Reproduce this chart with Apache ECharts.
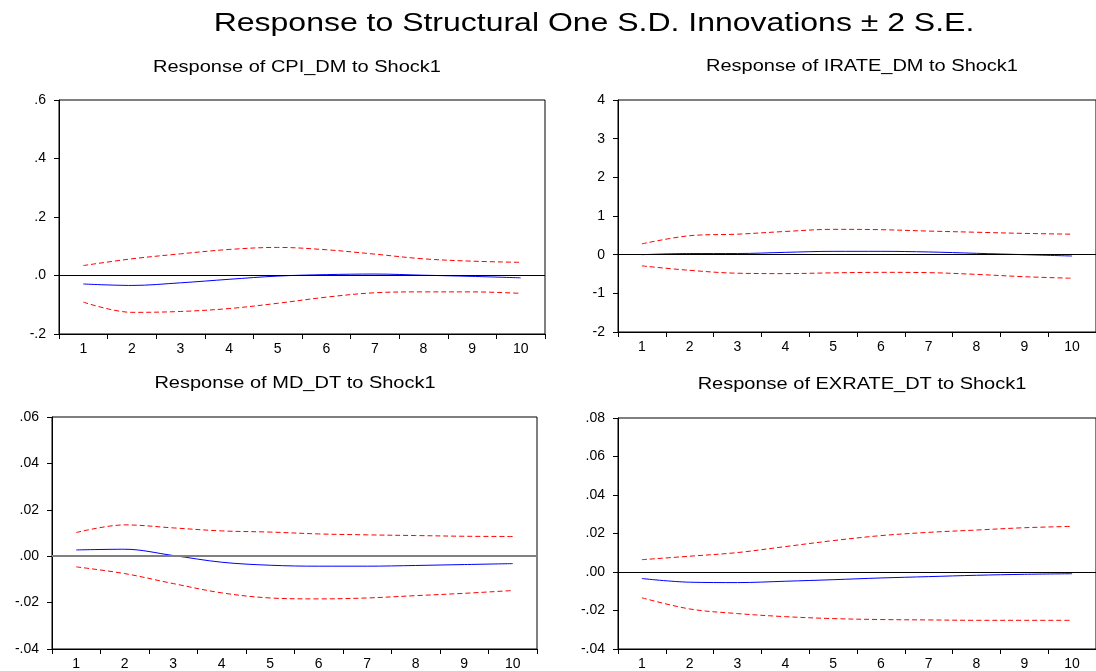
<!DOCTYPE html>
<html>
<head>
<meta charset="utf-8">
<title>Response to Structural One S.D. Innovations</title>
<script src="https://cdn.jsdelivr.net/npm/echarts@6/dist/echarts.min.js"></script>
<style>
  html, body { margin: 0; padding: 0; background: #ffffff; }
  #chart { width: 1096px; height: 671px; }
</style>
</head>
<body>
<div id="chart"></div>
<script>
// Forecast horizons
const periods = ['1', '2', '3', '4', '5', '6', '7', '8', '9', '10'];

// Response of CPI_DM to Shock1
const cpiResp  = [-0.029, -0.034, -0.025, -0.013, -0.002, 0.003, 0.005, 0.001, -0.003, -0.008];
const cpiUpper = [0.034, 0.057, 0.074, 0.089, 0.096, 0.088, 0.073, 0.057, 0.049, 0.045];
const cpiLower = [-0.091, -0.126, -0.123, -0.113, -0.095, -0.074, -0.059, -0.056, -0.056, -0.061];

// Response of IRATE_DM to Shock1
const irateResp  = [0.00, 0.03, 0.03, 0.06, 0.086, 0.086, 0.07, 0.035, 0.00, -0.035];
const irateUpper = [0.28, 0.49, 0.53, 0.60, 0.655, 0.646, 0.61, 0.58, 0.55, 0.53];
const irateLower = [-0.29, -0.405, -0.48, -0.49, -0.47, -0.457, -0.465, -0.51, -0.57, -0.61];

// Response of MD_DT to Shock1
const mdResp  = [0.0027, 0.0030, 0.0003, -0.0026, -0.0039, -0.0043, -0.0043, -0.0040, -0.0036, -0.0032];
const mdUpper = [0.0102, 0.0135, 0.0122, 0.0109, 0.0104, 0.0096, 0.0092, 0.0089, 0.0086, 0.0085];
const mdLower = [-0.0046, -0.0075, -0.0118, -0.0158, -0.0180, -0.0184, -0.0180, -0.0170, -0.0160, -0.0148];

// Response of EXRATE_DT to Shock1
const exResp  = [-0.0034, -0.0053, -0.0055, -0.0048, -0.0040, -0.0031, -0.0024, -0.0017, -0.0012, -0.0009];
const exUpper = [0.0064, 0.0082, 0.0101, 0.0132, 0.0163, 0.0189, 0.0206, 0.0218, 0.0230, 0.0237];
const exLower = [-0.0134, -0.0192, -0.0216, -0.0232, -0.0242, -0.0247, -0.0249, -0.0251, -0.0251, -0.0251];

const mainTitle = 'Response to Structural One S.D. Innovations \u00b1 2 S.E.';
const panelTitles = [
  'Response of CPI_DM to Shock1',
  'Response of IRATE_DM to Shock1',
  'Response of MD_DT to Shock1',
  'Response of EXRATE_DT to Shock1'
];

const FONT = '"Liberation Sans", Arial, sans-serif';

// Decimal labels without the leading zero: .6, -.2, .00
function dotLabel(decimals) {
  return function (v) {
    const s = Math.abs(v).toFixed(decimals).replace(/^0/, '');
    return (v < -1e-12 ? '-' : '') + s;
  };
}

const panels = [
  { grid: { left: 59, top: 100, width: 486, height: 234 }, min: -0.2, max: 0.6, interval: 0.2,
    fmt: dotLabel(1), resp: cpiResp, upper: cpiUpper, lower: cpiLower,
    zeroColor: '#000000', zeroWidth: 1, titleX: 297, titleY: 68 },
  { grid: { left: 618, top: 100, width: 485, height: 232 }, min: -2, max: 4, interval: 1,
    fmt: function (v) { return String(Math.round(v)); }, resp: irateResp, upper: irateUpper, lower: irateLower,
    zeroColor: '#000000', zeroWidth: 1, titleX: 862, titleY: 67 },
  { grid: { left: 52, top: 417, width: 485, height: 232 }, min: -0.04, max: 0.06, interval: 0.02,
    fmt: dotLabel(2), resp: mdResp, upper: mdUpper, lower: mdLower,
    zeroColor: '#808080', zeroWidth: 2, titleX: 295, titleY: 384 },
  { grid: { left: 618, top: 418, width: 485, height: 232 }, min: -0.04, max: 0.08, interval: 0.02,
    fmt: dotLabel(2), resp: exResp, upper: exUpper, lower: exLower,
    zeroColor: '#000000', zeroWidth: 1, titleX: 862, titleY: 385 }
];

// Text element, stretched horizontally like the original export
function headline(text, x, y, size, stretch) {
  return {
    type: 'text', x: x, y: y, scaleX: stretch, scaleY: 1, silent: true,
    style: {
      text: text, fill: '#000', fontFamily: FONT, fontSize: size,
      textAlign: 'center', verticalAlign: 'middle', textVerticalAlign: 'middle'
    }
  };
}

const grids = [], xAxes = [], yAxes = [], series = [];
const graphics = [headline(mainTitle, 594, 24, 26, 1.23)];

panels.forEach(function (p, i) {
  grids.push(Object.assign({ show: true, borderColor: '#000', borderWidth: 1, backgroundColor: '#fff' }, p.grid));
  graphics.push(headline(panelTitles[i], p.titleX, p.titleY, 16, 1.25));
  xAxes.push({
    type: 'category', gridIndex: i, data: periods, boundaryGap: true,
    axisLine: { onZero: false, lineStyle: { color: '#000', width: 1 } },
    axisTick: { show: true, inside: false, length: 5, alignWithLabel: false, lineStyle: { color: '#000' } },
    axisLabel: { color: '#000', fontFamily: FONT, fontSize: 14, margin: 8 },
    splitLine: { show: false }
  });
  yAxes.push({
    type: 'value', gridIndex: i, min: p.min, max: p.max, interval: p.interval,
    axisLine: { show: true, onZero: false, lineStyle: { color: '#000', width: 1 } },
    axisTick: { show: true, inside: false, length: 5, lineStyle: { color: '#000' } },
    axisLabel: { color: '#000', fontFamily: FONT, fontSize: 14, margin: 13, formatter: p.fmt },
    splitLine: { show: false }
  });
  const common = { xAxisIndex: i, yAxisIndex: i, symbol: 'none', smooth: 0.35, silent: true, animation: false };
  series.push(Object.assign({
    type: 'line', name: 'upper' + i, data: p.upper,
    lineStyle: { color: '#ff0000', width: 1, type: [5, 3] }
  }, common));
  series.push(Object.assign({
    type: 'line', name: 'lower' + i, data: p.lower,
    lineStyle: { color: '#ff0000', width: 1, type: [5, 3] }
  }, common));
  series.push(Object.assign({
    type: 'line', name: 'resp' + i, data: p.resp,
    lineStyle: { color: '#0000ff', width: 1 },
    markLine: {
      silent: true, symbol: 'none', animation: false,
      label: { show: false },
      lineStyle: { color: p.zeroColor, width: p.zeroWidth, type: 'solid' },
      data: [{ yAxis: 0 }]
    }
  }, common));
});

const chart = echarts.init(document.getElementById('chart'), null, { renderer: 'canvas' });
chart.setOption({
  backgroundColor: '#ffffff',
  animation: false,
  graphic: graphics,
  grid: grids,
  xAxis: xAxes,
  yAxis: yAxes,
  series: series
});
</script>
</body>
</html>
